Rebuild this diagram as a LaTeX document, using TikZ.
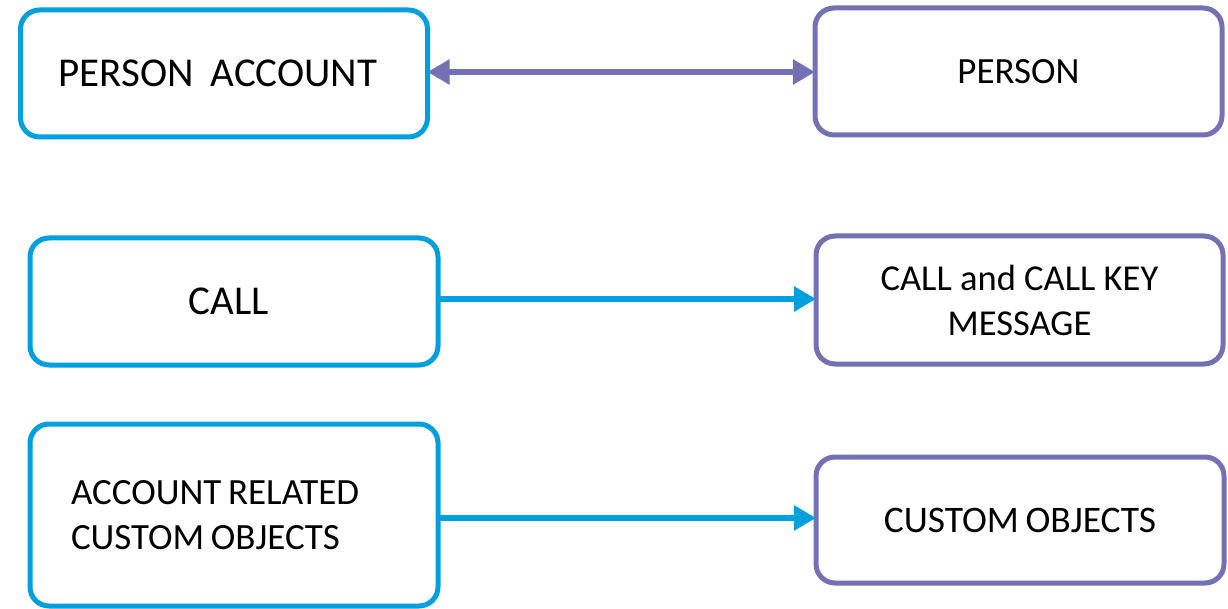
\documentclass[tikz,border=0pt]{standalone}
\usepackage{fontspec}
\setmainfont{Carlito}
\usetikzlibrary{arrows.meta}
\definecolor{cyanb}{RGB}{0,160,222}
\definecolor{purp}{RGB}{116,112,180}
\tikzset{
  box/.style={draw, line width=5pt, rounded corners=19pt, outer sep=0pt, inner sep=0pt, fill=white, text=black},
  cbox/.style={box, draw=cyanb},
  pbox/.style={box, draw=purp},
  conn/.style={line width=6.5pt, -{Triangle[length=22pt,width=24pt]}},
  fs/.style={font=\fontsize{#1}{45}\selectfont}
}
\begin{document}
\begin{tikzpicture}[x=1pt,y=-1pt]
\useasboundingbox (0,0) rectangle (1228,609);
\node[cbox, minimum width=407pt, minimum height=127pt, fs=41] (pa) at (224,73.5) {PERSON\hspace{0.4em}ACCOUNT\kern12pt\null};
\node[pbox, minimum width=407pt, minimum height=127pt, fs=37] (person) at (1018.5,71.5) {PERSON};
\node[cbox, minimum width=408pt, minimum height=127pt, fs=41] (call) at (234,301.5) {CALL\kern11pt\null};
\node[pbox, minimum width=407pt, minimum height=128pt, fs=36.5, align=center] (ckm) at (1019.5,300) {CALL and CALL KEY\\MESSAGE};
\node[cbox, minimum width=408pt, minimum height=182pt, fs=37, align=left, text width=326pt, inner xsep=41pt] (arco) at (234,515) {ACCOUNT\hspace{0.18em}RELATED\\CUSTOM\hspace{0.18em}OBJECTS};
\node[pbox, minimum width=408pt, minimum height=126pt, fs=37.5] (co) at (1020,520) {CUSTOM\hspace{0.18em}OBJECTS};
\draw[conn, purp, {Triangle[length=22pt,width=24pt]}-{Triangle[length=22pt,width=24pt]}] (pa.east |- 0,72) -- (person.west |- 0,72);
\draw[conn, cyanb] (call.east |- 0,299) -- (ckm.west |- 0,299);
\draw[conn, cyanb] (arco.east |- 0,518) -- (co.west |- 0,518);
\end{tikzpicture}
\end{document}
